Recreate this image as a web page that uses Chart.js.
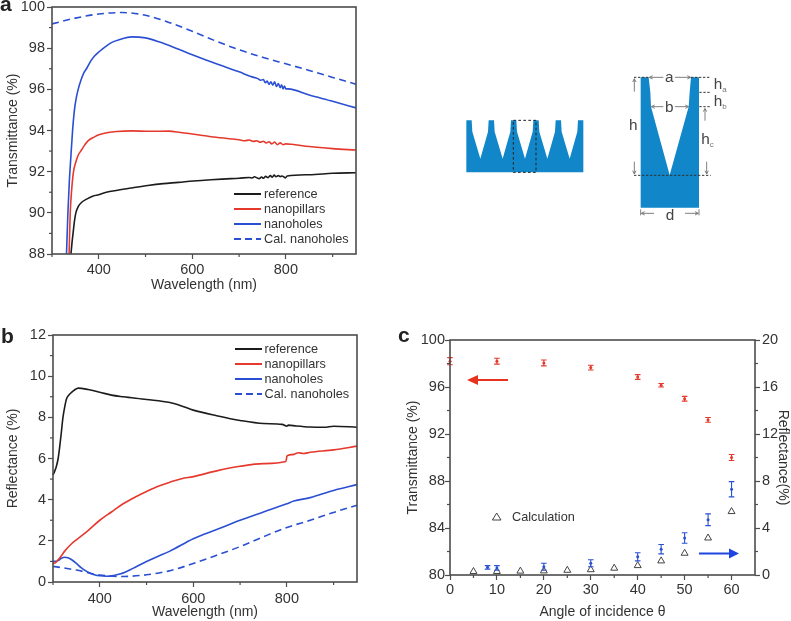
<!DOCTYPE html>
<html>
<head>
<meta charset="utf-8">
<title>Transmittance and reflectance of nanoholes</title>
<script src="https://cdn.jsdelivr.net/npm/chart.js@4/dist/chart.umd.min.js"></script>
<style>
  html, body { margin: 0; padding: 0; background: #fff; }
  body { position: relative; width: 791px; height: 621px; overflow: hidden; font-family: "Liberation Sans", Arial, sans-serif; color: #333; }
  canvas, svg { position: absolute; display: block; }
  .panel { position: absolute; font-weight: bold; font-size: 21px; line-height: 21px; color: #222; }
  .legend-row { position: absolute; font-size: 12.7px; line-height: 14px; white-space: nowrap; }
  .legend-row i { position: absolute; left: -30px; top: 6px; width: 27px; height: 1.5px; }
</style>
</head>
<body>
<canvas id="chartA" width="370" height="300" style="left:0;top:0"></canvas>
<canvas id="chartB" width="370" height="301" style="left:0;top:320px"></canvas>
<canvas id="chartC" width="396" height="301" style="left:395px;top:320px"></canvas>

<div class="panel" style="left:0;top:-7px">a</div>
<div class="panel" style="left:1px;top:325px">b</div>
<div class="panel" style="left:398px;top:324px">c</div>
<div id="legendA"></div>
<div id="legendB"></div>
<div class="legend-row" style="left:512px;top:510px">Calculation</div>

<!-- arrows and the calculation marker of panel c -->
<svg width="791" height="621" style="left:0;top:0;pointer-events:none">
  <path d="M508 380 H476" stroke="#e8321e" stroke-width="2"/>
  <path d="M467 380 L478 375 V385 Z" fill="#e8321e"/>
  <path d="M699 553.5 H730" stroke="#1f45e0" stroke-width="2"/>
  <path d="M739 553.5 L729 548.5 V558.5 Z" fill="#1f45e0"/>
  <path d="M496.7 513 L501 520 H492.4 Z" fill="none" stroke="#444" stroke-width="1"/>
</svg>

<!-- schematic, units are 1/3 px -->
<svg width="280" height="180" viewBox="0 0 840 540" style="left:450px;top:60px" font-family="Liberation Sans, Arial, sans-serif" fill="#444">
  <path fill="#1186c9" d="M49 337 V181 H65 L67 215 L91 296 L114 215 L116 181 H132 L134 215 L158 296 L181 215 L183 181 H199 L201 215 L225 296 L248 215 L250 181 H266 L268 215 L292 296 L315 215 L317 181 H333 L335 215 L359 296 L382 215 L384 181 H400 V337 Z"/>
  <rect x="190" y="181" width="68" height="156" fill="none" stroke="#222" stroke-width="3" stroke-dasharray="8 7"/>
  <path fill="#1186c9" d="M572 443 V52 H596 L601 97 L603 140 L659 345 L716 140 L719 97 L723 52 H747 V443 Z"/>
  <g fill="none" stroke="#333" stroke-width="3" stroke-dasharray="7 5">
    <path d="M552 52 H596 M723 52 H782 M748 97 H782 M748 140 H782 M552 346 H782"/>
  </g>
  <g fill="none" stroke="#666" stroke-width="2.5">
    <path d="M600 52 H640 M675 52 H720 M607 140 H640 M675 140 H713 M553 58 V95 M553 305 V340 M765 147 V182 M770 305 V340 M576 460 H612 M705 460 H743 M572 448 V466 M747 448 V466"/>
    <path d="M608 47 L598 52 L608 57 M712 47 L722 52 L712 57 M614 135 L604 140 L614 145 M706 135 L716 140 L706 145 M548 66 L553 56 L558 66 M548 332 L553 342 L558 332 M760 155 L765 145 L770 155 M765 332 L770 342 L775 332 M584 455 L574 460 L584 465 M735 455 L745 460 L735 465"/>
  </g>
  <g font-size="46">
    <text x="658" y="66" text-anchor="middle">a</text>
    <text x="658" y="155" text-anchor="middle">b</text>
    <text x="660" y="480" text-anchor="middle">d</text>
    <text x="550" y="210" text-anchor="middle">h</text>
    <text x="754" y="252">h<tspan font-size="24" dy="8" fill="#777">c</tspan></text>
    <text x="791" y="87">h<tspan font-size="24" dy="8" fill="#777">a</tspan></text>
    <text x="791" y="138">h<tspan font-size="24" dy="8" fill="#777">b</tspan></text>
  </g>
</svg>

<script>
'use strict';

// ── DATA ─────────────────────────────────────────────────────

const LEGEND_NAMES = ['reference', 'nanopillars', 'nanoholes', 'Cal. nanoholes'];

// panel a, transmittance
const A_REF_X = [340.5,343,345,348,351,356,363,375,388,400,416,440,473,505,538,570,602,640,674,700,722,728,733,738,743,748,752,757,762,767,771,775,779,784,788,792,796,799,803,850,900,950];
const A_REF_Y = [88,88.6,89,89.6,90,90.3,90.5,90.68,90.82,90.88,91,91.1,91.22,91.33,91.42,91.48,91.55,91.61,91.65,91.68,91.72,91.69,91.75,91.7,91.66,91.74,91.68,91.77,91.71,91.81,91.73,91.83,91.75,91.81,91.76,91.79,91.74,91.7,91.79,91.85,91.92,91.95];
const A_PIL_X = [336.5,339,342,346,350,356,363,370,377,390,402,420,438,470,510,550,575,600,640,680,700,712,722,730,738,745,752,758,764,770,776,782,788,794,800,812,850,900,950];
const A_PIL_Y = [88,90,91.1,92,92.4,92.8,93.05,93.3,93.5,93.68,93.8,93.9,93.95,93.98,93.96,93.97,93.9,93.83,93.7,93.6,93.55,93.5,93.54,93.47,93.5,93.43,93.48,93.39,93.45,93.35,93.44,93.31,93.4,93.31,93.35,93.33,93.22,93.12,93.05];
const A_HOL_X = [331,334,337,340,344,348,352,356,362,368,375,383,391,402,413,428,445,470,500,530,565,600,650,700,725,740,746,752,756,760,764,768,772,776,780,784,788,791,794,797,800,805,850,900,950];
const A_HOL_Y = [88,90,91.5,92.6,94,95,95.6,96,96.45,96.8,97.05,97.38,97.62,97.85,98.05,98.28,98.42,98.55,98.5,98.3,98,97.68,97.25,96.85,96.62,96.52,96.44,96.48,96.32,96.4,96.24,96.36,96.2,96.36,96.14,96.28,96.08,96.22,96.02,96.16,96.02,96.02,95.72,95.42,95.1];
const A_CAL_X = [300,350,400,450,500,550,600,650,700,750,800,850,900,950];
const A_CAL_Y = [99.18,99.46,99.66,99.73,99.6,99.25,98.82,98.35,97.92,97.56,97.24,96.92,96.58,96.25];

// panel b, reflectance
const B_REF_X = [300,303,307,311,314,318,321,325,329,334,339,346,354,375,400,425,450,500,550,575,600,650,700,750,790,800,803,820,850,880,900,950];
const B_REF_Y = [5.2,5.35,5.6,6,6.5,7.3,7.95,8.5,8.9,9.08,9.2,9.33,9.42,9.35,9.22,9.08,9,8.87,8.72,8.55,8.35,8.08,7.85,7.7,7.66,7.57,7.62,7.58,7.53,7.52,7.57,7.52];
const B_PIL_X = [300,305,310,318,325,337,350,375,400,425,450,475,500,525,550,575,600,650,700,750,798,800,802,815,825,835,850,900,950];
const B_PIL_Y = [0.9,0.93,1.05,1.28,1.5,1.8,2.05,2.5,3,3.4,3.8,4.12,4.4,4.65,4.85,5.02,5.12,5.4,5.62,5.75,5.85,6.1,6.15,6.2,6.28,6.24,6.3,6.42,6.6];
const B_HOL_X = [300,305,312,318,325,332,340,350,360,370,380,390,400,415,430,445,470,500,525,550,600,650,700,750,800,815,850,900,950];
const B_HOL_Y = [1,1,1.05,1.15,1.2,1.18,1.08,0.9,0.7,0.54,0.42,0.34,0.3,0.28,0.32,0.4,0.65,1,1.25,1.5,2.1,2.55,3,3.4,3.8,3.93,4.1,4.45,4.73];
const B_CAL_X = [300,350,400,450,500,550,600,650,700,750,800,850,900,950];
const B_CAL_Y = [0.76,0.58,0.34,0.27,0.35,0.55,0.9,1.3,1.72,2.2,2.65,3,3.38,3.73];

// panel c, angle of incidence
const C_T_ANGLE = [0,10,20,30,40,45,50,55,60];
const C_T_VALUE = [98.2,98.2,98.05,97.65,96.85,96.15,95,93.2,90];
const C_T_ERROR = [0.3,0.25,0.25,0.2,0.2,0.15,0.2,0.2,0.25];
const C_R_ANGLE = [8,10,20,30,40,45,50,55,60];
const C_R_VALUE = [0.65,0.6,0.7,1,1.55,2.2,3.15,4.7,7.3];
const C_R_ERROR = [0.15,0.2,0.3,0.3,0.35,0.4,0.45,0.5,0.65];
const C_CALC_ANGLE = [5,10,15,20,25,30,35,40,45,50,55,60];
const C_CALC_VALUE = [0.3,0.3,0.33,0.35,0.4,0.45,0.58,0.8,1.2,1.85,3.15,5.4];

// ticks
const WAVE_TICKS = [400,600,800];
const WAVE_MINOR = [300,500,700,900];
const A_Y_TICKS = [88,90,92,94,96,98,100];
const A_Y_MINOR = [89,91,93,95,97,99];
const B_Y_TICKS = [0,2,4,6,8,10,12];
const B_Y_MINOR = [1,3,5,7,9,11];
const C_X_TICKS = [0,10,20,30,40,50,60];
const C_X_MINOR = [5,15,25,35,45,55];
const C_T_TICKS = [80,84,88,92,96,100];
const C_T_MINOR = [82,86,90,94,98];
const C_R_TICKS = [0,4,8,12,16,20];
const C_R_MINOR = [2,6,10,14,18];

// ── STYLE ────────────────────────────────────────────────────

const BLACK = '#1c1c1c';
const RED   = '#e6392d';
const BLUE  = '#2b4fd2';
const FRAME = '#4d4d4d';
const TEXT  = '#333';
const FONT  = 'Liberation Sans';

Chart.defaults.font.family = FONT;
Chart.defaults.color = TEXT;
Chart.defaults.animation = false;

const pts = (xs, ys) => xs.map((x, i) => ({ x, y: ys[i] }));

function lineSet(xs, ys, color, dashed) {
  return {
    data: pts(xs, ys),
    borderColor: color,
    borderWidth: 1.6,
    borderDash: dashed ? [7, 4.5] : [],
    pointRadius: 0,
    showLine: true,
    cubicInterpolationMode: 'monotone'
  };
}

// ── AXIS HELPERS ─────────────────────────────────────────────

function axis(min, max, ticks, title, size, titlePad, labelPad, position) {
  const opts = {
    min, max,
    afterBuildTicks: a => { a.ticks = ticks.map(value => ({ value })); },
    afterFit: a => {
      if (a.isHorizontal()) a.height = size; else a.width = size;
      a.paddingLeft = a.paddingRight = a.paddingTop = a.paddingBottom = 0;
    },
    grid: { drawOnChartArea: false, tickLength: 5, tickColor: FRAME, tickWidth: 1.2 },
    border: { display: false },
    ticks: { font: { size: 14.5 }, color: TEXT, padding: labelPad, maxRotation: 0, autoSkip: false, callback: v => String(v) },
    title: { display: true, text: title, font: { size: 14 }, color: TEXT, padding: titlePad }
  };
  if (position) opts.position = position;
  return opts;
}

// box round the plot and the short unlabelled ticks
const frameAndMinor = {
  id: 'frameAndMinor',
  afterDraw(chart, args, opts) {
    const { ctx, chartArea: c, scales } = chart;
    ctx.save();
    ctx.strokeStyle = FRAME;
    ctx.lineWidth = 1.2;
    for (const id of Object.keys(opts.minor)) {
      const s = scales[id];
      opts.minor[id].forEach(v => {
        const p = s.getPixelForValue(v);
        ctx.beginPath();
        if (id === 'x') { ctx.moveTo(p, c.bottom); ctx.lineTo(p, c.bottom + 3); }
        else if (s.position === 'right') { ctx.moveTo(c.right, p); ctx.lineTo(c.right + 3, p); }
        else { ctx.moveTo(c.left, p); ctx.lineTo(c.left - 3, p); }
        ctx.stroke();
      });
    }
    ctx.lineWidth = 1.6;
    ctx.strokeRect(c.left, c.top, c.right - c.left, c.bottom - c.top);
    ctx.restore();
  }
};

// vertical error bars with caps, read from dataset.errors
const errorBars = {
  id: 'errorBars',
  afterDatasetsDraw(chart) {
    const { ctx, scales } = chart;
    chart.data.datasets.forEach(ds => {
      if (!ds.errors) return;
      const sy = scales[ds.yAxisID];
      ctx.save();
      ctx.strokeStyle = ds.borderColor;
      ctx.lineWidth = 1.1;
      ds.data.forEach((d, i) => {
        const x = scales.x.getPixelForValue(d.x);
        const hi = sy.getPixelForValue(d.y + ds.errors[i]);
        const lo = sy.getPixelForValue(d.y - ds.errors[i]);
        ctx.beginPath();
        ctx.moveTo(x, hi); ctx.lineTo(x, lo);
        ctx.moveTo(x - 2.8, hi); ctx.lineTo(x + 2.8, hi);
        ctx.moveTo(x - 2.8, lo); ctx.lineTo(x + 2.8, lo);
        ctx.stroke();
      });
      ctx.restore();
    });
  }
};

function baseOptions(padding, scales, minor) {
  return {
    responsive: false,
    layout: { padding },
    clip: false,
    plugins: { legend: { display: false }, tooltip: { enabled: false }, frameAndMinor: { minor } },
    scales
  };
}

// ── CHARTS ───────────────────────────────────────────────────

new Chart(document.getElementById('chartA'), {
  type: 'scatter',
  data: { datasets: [
    lineSet(A_REF_X, A_REF_Y, BLACK),
    lineSet(A_PIL_X, A_PIL_Y, RED),
    lineSet(A_HOL_X, A_HOL_Y, BLUE),
    lineSet(A_CAL_X, A_CAL_Y, BLUE, true)
  ] },
  options: baseOptions({ top: 7, right: 14 }, {
    x: axis(300, 950, WAVE_TICKS, 'Wavelength (nm)', 46, { top: 4, bottom: 6 }, 2),
    y: axis(88, 100, A_Y_TICKS, 'Transmittance (%)', 52, { top: 5, bottom: 0 }, 2)
  }, { x: WAVE_MINOR, y: A_Y_MINOR }),
  plugins: [frameAndMinor]
});

new Chart(document.getElementById('chartB'), {
  type: 'scatter',
  data: { datasets: [
    lineSet(B_REF_X, B_REF_Y, BLACK),
    lineSet(B_PIL_X, B_PIL_Y, RED),
    lineSet(B_HOL_X, B_HOL_Y, BLUE),
    lineSet(B_CAL_X, B_CAL_Y, BLUE, true)
  ] },
  options: baseOptions({ top: 15, right: 13 }, {
    x: axis(300, 950, WAVE_TICKS, 'Wavelength (nm)', 39, { top: 0, bottom: 0 }, 3),
    y: axis(0, 12, B_Y_TICKS, 'Reflectance (%)', 53, { top: 5, bottom: 0 }, 2)
  }, { x: WAVE_MINOR, y: B_Y_MINOR }),
  plugins: [frameAndMinor]
});

new Chart(document.getElementById('chartC'), {
  type: 'scatter',
  data: { datasets: [
    { data: pts(C_T_ANGLE, C_T_VALUE), errors: C_T_ERROR, yAxisID: 'y', borderColor: RED, backgroundColor: RED, pointRadius: 1.5, pointBorderWidth: 0 },
    { data: pts(C_R_ANGLE, C_R_VALUE), errors: C_R_ERROR, yAxisID: 'y2', borderColor: BLUE, backgroundColor: BLUE, pointRadius: 1.5, pointBorderWidth: 0 },
    { data: pts(C_CALC_ANGLE, C_CALC_VALUE), yAxisID: 'y2', pointStyle: 'triangle', pointRadius: 4, pointBorderWidth: 1, borderColor: '#444', backgroundColor: 'rgba(0,0,0,0)' }
  ] },
  options: baseOptions({ top: 20, right: 0 }, {
    x: axis(0, 65, C_X_TICKS, 'Angle of incidence θ', 46, { top: 4, bottom: 0 }, 1),
    y: axis(80, 100, C_T_TICKS, 'Transmittance (%)', 55, { top: 10, bottom: 0 }, 0, 'left'),
    y2: axis(0, 20, C_R_TICKS, 'Reflectance(%)', 36, { top: 0, bottom: 0 }, 2, 'right')
  }, { x: C_X_MINOR, y: C_T_MINOR, y2: C_R_MINOR }),
  plugins: [frameAndMinor, errorBars]
});

// ── LEGENDS ──────────────────────────────────────────────────

function addLegend(hostId, left, top, step) {
  const colors = [BLACK, RED, BLUE, BLUE];
  document.getElementById(hostId).innerHTML = LEGEND_NAMES.map((name, i) => {
    const bg = i === 3
      ? `repeating-linear-gradient(90deg,${colors[i]} 0 7px,transparent 7px 11px)`
      : colors[i];
    return `<div class="legend-row" style="left:${left}px;top:${top + i * step}px">` +
      `<i style="background:${bg}"></i>${name}</div>`;
  }).join('');
}

addLegend('legendA', 264, 187, 15);
addLegend('legendB', 264.5, 342, 15);
</script>
</body>
</html>
